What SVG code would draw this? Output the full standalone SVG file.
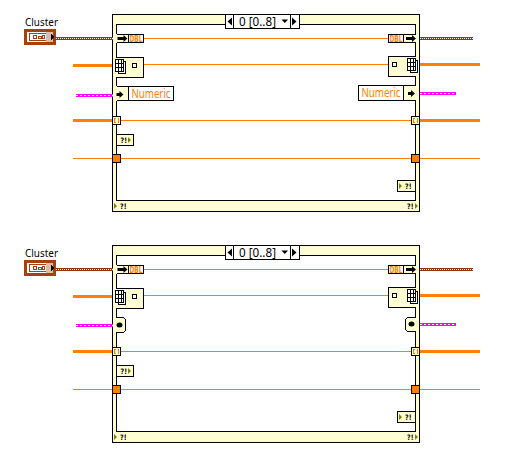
<svg xmlns="http://www.w3.org/2000/svg" xmlns:xlink="http://www.w3.org/1999/xlink" width="516" height="458" viewBox="0 0 516 458">
<style>
.fr{fill:#fffdd2;stroke:#000;stroke-width:1;shape-rendering:crispEdges}
.in{fill:#fff;stroke:#000;stroke-width:1;shape-rendering:crispEdges}
.bx{fill:#fffdd2;stroke:#000;stroke-width:1;shape-rendering:crispEdges}
.wh{fill:#fff;stroke:#000;stroke-width:1;shape-rendering:crispEdges}
.ln{fill:none;stroke:#000;stroke-width:1;shape-rendering:crispEdges}
.nb{fill:#fffdd2;stroke:none;shape-rendering:crispEdges}
.w1{stroke:#ff7f00;stroke-width:1;fill:none;shape-rendering:crispEdges}
.w3{stroke:#ff7f00;stroke-width:3;fill:none;shape-rendering:crispEdges}
.br{stroke:#8f3a0c;stroke-width:3;fill:none;shape-rendering:crispEdges}
.brd{stroke:#fff;stroke-width:1;stroke-dasharray:1 1;fill:none;shape-rendering:crispEdges}
.pk{stroke:#ff00ff;stroke-width:3;fill:none;shape-rendering:crispEdges}
.pkd{stroke:#fff;stroke-width:1;stroke-dasharray:2 2;fill:none;shape-rendering:crispEdges}
.t{font-family:"Noto Sans","Liberation Sans",sans-serif;font-size:11.500px;fill:#000}
.n{font-family:"Noto Sans","Liberation Sans",sans-serif;font-size:12px;fill:#ff7f00}
.d{font-family:"DejaVu Sans",sans-serif;font-size:8px;font-weight:bold;fill:#ff7f00}
.q{font-family:"DejaVu Sans",sans-serif;font-size:7.500px;font-weight:bold;fill:#000}
.s{font-family:"Noto Sans","Liberation Sans",sans-serif;font-size:12px;fill:#000}
.k{fill:#000}
.o{fill:#808000}
</style>
<defs>
<g id="arrow"><path class="k" d="M0 -1.500H6V-3.500L10 0L6 3.500V1.500H0Z"/></g>
<g id="sarrow"><path class="k" d="M0 -1.500H3V-3.500L7 0L3 3.500V1.500H0Z"/></g>
<g id="grid"><path class="wh" d="M3.500 2.500H10.500V14.500H3.500Z"/><path class="wh" d="M0.500 0.500H8.500V12.500H0.500Z"/><path class="ln" d="M0.500 4.500H8.500M0.500 8.500H8.500M3.500 0.500V12.500M6.500 0.500V12.500"/></g>
<g id="oval"><ellipse class="k" cx="3.500" cy="0" rx="3" ry="2.500"/></g>
<g id="sr"><rect class="bx" x="0.500" y="0.500" width="8" height="8"/><path d="M3.500 2.500H2.500V6.500H3.500M5.500 2.500H6.500V6.500H5.500" fill="none" stroke="#ff7f00" stroke-width="1" shape-rendering="crispEdges"/></g>
<g id="cl" shape-rendering="crispEdges"><rect x="0" y="0" width="32" height="16" fill="#a4410f"/><rect x="3" y="3" width="26" height="10" fill="#fff"/><rect x="5.500" y="4.500" width="17" height="7" fill="#fff" stroke="#a4410f"/><path d="M9.500 6.500H12.500V9.500H9.500ZM14.500 7.500H17.500V9.500H14.500ZM18.500 6.500H20.500V9.500H18.500Z" fill="none" stroke="#a4410f" stroke-width="1"/><rect x="22" y="3" width="7" height="10" fill="#dcbca4"/><path class="k" d="M27 4.500L31 8L27 11.500Z"/></g>
<g id="sel"><rect class="wh" x="0.500" y="0.500" width="74" height="14"/><path class="ln" d="M8.500 0.500V14.500M65.500 0.500V14.500"/><path class="k" d="M7 3.500V11.500L2.500 7.500Z"/><path class="k" d="M67 3.500V11.500L71.500 7.500Z"/><path class="k" d="M56.500 5.500H63L59.750 9Z"/><text class="s" x="14" y="12" textLength="37" lengthAdjust="spacingAndGlyphs">0 [0..8]</text></g>
<g id="tl"><path class="o" d="M0 0V6L3 3Z"/></g>
</defs>

<g id="frame1">
<rect class="fr" x="112.500" y="14.500" width="307" height="197"/>
<rect class="in" x="116.500" y="24.500" width="299" height="176"/>
<use xlink:href="#sel" x="225" y="14"/>
<use xlink:href="#tl" x="114" y="203"/><text class="q" x="120" y="209" textLength="6.500" lengthAdjust="spacingAndGlyphs">?!</text>
<text class="q" x="407" y="209" textLength="6.500" lengthAdjust="spacingAndGlyphs">?!</text><use xlink:href="#tl" x="415" y="203"/>
</g>
<g id="frame2">
<rect class="fr" x="112.500" y="245.500" width="307" height="197"/>
<rect class="in" x="116.500" y="255.500" width="299" height="176"/>
<use xlink:href="#sel" x="225" y="245"/>
<use xlink:href="#tl" x="114" y="434"/><text class="q" x="120" y="440" textLength="6.500" lengthAdjust="spacingAndGlyphs">?!</text>
<text class="q" x="407" y="440" textLength="6.500" lengthAdjust="spacingAndGlyphs">?!</text><use xlink:href="#tl" x="415" y="434"/>
</g>

<g id="connectors">
<path class="w1" d="M144 38.500H389M144 64.500H389M121 120.500H412M73 158.500H480"/>
<path class="w3" d="M73 65.500H112M420 64.500H480M73 120.500H112M420 120.500H480"/>
<path class="br" d="M56 38.500H112.500M420 38.500H473"/><path class="brd" d="M56 38.500H112.500M420 38.500H473"/>
<path class="pk" d="M76 95.500H112.500M420 93.500H456"/><path class="pkd" d="M76 95.500H112.500M420 93.500H456"/>
<path class="w1" d="M144 269.500H389M144 295.500H389M121 351.500H412M73 389.500H480"/>
<path class="w3" d="M73 296.500H112M420 295.500H480M73 351.500H112M420 351.500H480"/>
<path class="br" d="M56 269.500H112.500M420 269.500H473"/><path class="brd" d="M56 269.500H112.500M420 269.500H473"/>
<path class="pk" d="M76 325.500H112.500M420 324.500H456"/><path class="pkd" d="M76 325.500H112.500M420 324.500H456"/>
</g>

<g id="cluster1"><text class="t" x="25" y="26" textLength="33" lengthAdjust="spacingAndGlyphs">Cluster</text><use xlink:href="#cl" x="24" y="29"/></g>
<g id="cluster2"><text class="t" x="25" y="257" textLength="33" lengthAdjust="spacingAndGlyphs">Cluster</text><use xlink:href="#cl" x="24" y="260"/></g>

<g id="dbl-left1"><rect class="nb" x="113" y="34" width="16" height="9"/><path class="ln" d="M116.500 34.500H143.500V42.500H116.500M128.500 34.500V42.500"/><use xlink:href="#arrow" x="117.500" y="38.500"/><text class="d" x="129.500" y="41.700" textLength="13" lengthAdjust="spacingAndGlyphs">DBL</text></g>
<g id="dbl-right1"><rect class="nb" x="403" y="34" width="16" height="9"/><path class="ln" d="M415.500 34.500H388.500V42.500H415.500M403.500 34.500V42.500"/><use xlink:href="#arrow" x="406" y="38.500"/><text class="d" x="389.500" y="41.700" textLength="13" lengthAdjust="spacingAndGlyphs">DBL</text></g>
<g id="array-left1"><path class="bx" d="M116.500 57.500H143.500V77.500H116.500Z"/><rect class="nb" x="114" y="58" width="4" height="19"/><rect class="wh" x="132.500" y="63.500" width="4" height="4"/><use xlink:href="#grid" x="115" y="59"/></g>
<g id="array-right1"><path class="bx" d="M415.500 56.500H388.500V76.500H415.500Z"/><rect class="nb" x="414" y="57" width="5" height="19"/><rect class="wh" x="392.500" y="62.500" width="4" height="4"/><use xlink:href="#grid" x="407" y="58"/></g>
<g id="numeric-left1"><rect class="nb" x="113" y="86" width="16" height="15"/><rect class="wh" x="128.500" y="86.500" width="45" height="14"/><path class="ln" d="M116.500 86.500H128.500M116.500 100.500H128.500"/><use xlink:href="#sarrow" x="116.500" y="94.500"/><text class="n" x="131.500" y="98" textLength="39" lengthAdjust="spacingAndGlyphs">Numeric</text></g>
<g id="numeric-right1"><rect class="nb" x="403" y="85" width="16" height="16"/><rect class="wh" x="358.500" y="85.500" width="45" height="15"/><path class="ln" d="M403.500 85.500H415.500M403.500 100.500H415.500"/><use xlink:href="#sarrow" x="408" y="93.500"/><text class="n" x="361.500" y="97" textLength="39" lengthAdjust="spacingAndGlyphs">Numeric</text></g>
<g id="sr-left1"><use xlink:href="#sr" x="112" y="116"/></g>
<g id="sr-right1"><use xlink:href="#sr" x="411" y="116"/></g>
<g id="err-left1"><rect x="112.500" y="154.500" width="8" height="8" fill="#ff7f00" stroke="#000" shape-rendering="crispEdges"/></g>
<g id="err-right1"><rect x="411.500" y="154.500" width="8" height="8" fill="#ff7f00" stroke="#000" shape-rendering="crispEdges"/></g>
<g id="flag-left1"><rect class="bx" x="116.500" y="134.500" width="17" height="11"/><text class="q" x="120.500" y="143" textLength="6.500" lengthAdjust="spacingAndGlyphs">?!</text><use xlink:href="#tl" x="128" y="137"/></g>
<g id="flag-right1"><rect class="bx" x="397.500" y="180.500" width="18" height="11"/><use xlink:href="#tl" x="399" y="183"/><text class="q" x="405" y="189" textLength="6.500" lengthAdjust="spacingAndGlyphs">?!</text></g>

<g id="dbl-left2"><rect class="nb" x="113" y="265" width="16" height="9"/><path class="ln" d="M116.500 265.500H143.500V273.500H116.500M128.500 265.500V273.500"/><use xlink:href="#arrow" x="117.500" y="269.500"/><text class="d" x="129.500" y="272.700" textLength="13" lengthAdjust="spacingAndGlyphs">DBL</text></g>
<g id="dbl-right2"><rect class="nb" x="403" y="265" width="16" height="9"/><path class="ln" d="M415.500 265.500H388.500V273.500H415.500M403.500 265.500V273.500"/><use xlink:href="#arrow" x="406" y="269.500"/><text class="d" x="389.500" y="272.700" textLength="13" lengthAdjust="spacingAndGlyphs">DBL</text></g>
<g id="array-left2"><path class="bx" d="M116.500 288.500H143.500V308.500H116.500Z"/><rect class="nb" x="114" y="289" width="4" height="19"/><rect class="wh" x="132.500" y="294.500" width="4" height="4"/><use xlink:href="#grid" x="115" y="290"/></g>
<g id="array-right2"><path class="bx" d="M415.500 287.500H388.500V307.500H415.500Z"/><rect class="nb" x="414" y="288" width="5" height="19"/><rect class="wh" x="392.500" y="293.500" width="4" height="4"/><use xlink:href="#grid" x="407" y="289"/></g>
<g id="local-left2"><rect class="nb" x="113" y="318" width="12" height="14"/><path class="ln" d="M116.500 317.500H123.500L125.500 319.500V330.500L123.500 332.500H116.500"/><use xlink:href="#oval" x="116" y="325"/></g>
<g id="local-right2"><rect class="nb" x="406" y="318" width="13" height="13"/><path class="ln" d="M415.500 317.500H407.500L405.500 319.500V329.500L407.500 331.500H415.500"/><use xlink:href="#oval" x="408" y="324"/></g>
<g id="sr-left2"><use xlink:href="#sr" x="112" y="347"/></g>
<g id="sr-right2"><use xlink:href="#sr" x="411" y="347"/></g>
<g id="err-left2"><rect x="112.500" y="385.500" width="8" height="8" fill="#ff7f00" stroke="#000" shape-rendering="crispEdges"/></g>
<g id="err-right2"><rect x="411.500" y="385.500" width="8" height="8" fill="#ff7f00" stroke="#000" shape-rendering="crispEdges"/></g>
<g id="flag-left2"><rect class="bx" x="116.500" y="365.500" width="17" height="11"/><text class="q" x="120.500" y="374" textLength="6.500" lengthAdjust="spacingAndGlyphs">?!</text><use xlink:href="#tl" x="128" y="368"/></g>
<g id="flag-right2"><rect class="bx" x="397.500" y="411.500" width="18" height="11"/><use xlink:href="#tl" x="399" y="414"/><text class="q" x="405" y="420" textLength="6.500" lengthAdjust="spacingAndGlyphs">?!</text></g>
</svg>
